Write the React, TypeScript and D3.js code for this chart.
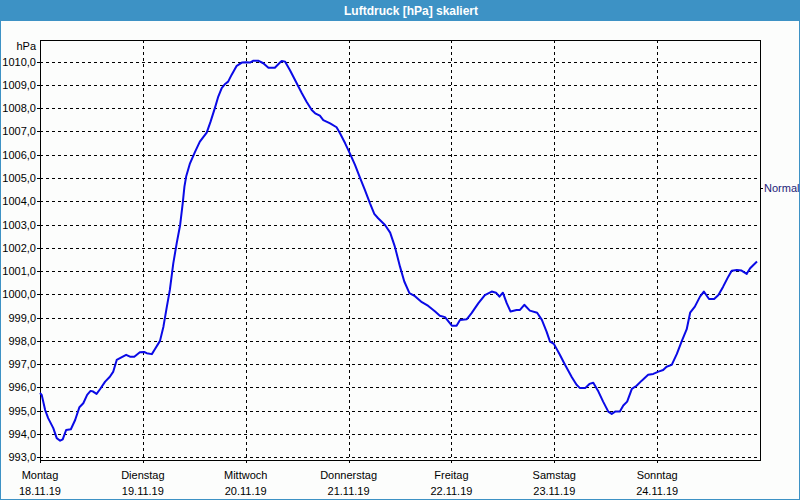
import React from "react";
import * as d3 from "d3";

const title = "Luftdruck [hPa] skaliert";
const unitLabel = "hPa";
const dayNames = ["Montag", "Dienstag", "Mittwoch", "Donnerstag", "Freitag", "Samstag", "Sonntag"];
const dayDates = ["18.11.19", "19.11.19", "20.11.19", "21.11.19", "22.11.19", "23.11.19", "24.11.19"];
const yTicks = [993, 994, 995, 996, 997, 998, 999, 1000, 1001, 1002, 1003, 1004, 1005, 1006, 1007, 1008, 1009, 1010];
const normalLabel = "Normal";
const normalValue = 1004.57;

// hours since Monday 00:00
const hours = [
  0, 0.4, 1.2, 1.9, 3.1, 3.9, 4.7, 5.3, 6.1, 7.2, 8.2, 9.2, 10.1, 11.0, 11.8, 12.4, 13.2, 14.0, 15.2, 16.3,
  17.1, 17.9, 19.1, 20.1, 21.0, 22.0, 23.3, 24.3, 24.9, 26.1, 26.8, 28.0, 28.8, 29.6, 30.3, 31.1, 31.9, 32.7,
  33.3, 33.7, 34.1, 35.0, 36.2, 37.3, 38.9, 39.8, 40.8, 41.6, 42.4, 43.2, 43.9, 44.7, 45.9, 47.1, 48.1, 49.0,
  49.8, 50.9, 52.1, 53.3, 54.8, 56.0, 56.4, 57.2, 58.3, 59.9, 61.1, 62.2, 63.4, 64.2, 65.3, 66.1, 67.7, 69.2,
  70.0, 71.2, 72.3, 73.5, 74.7, 75.8, 77.0, 78.0, 78.9, 80.5, 81.7, 82.8, 84.0, 85.0, 86.2, 87.5, 89.1, 90.6,
  92.2, 93.3, 94.5, 96.1, 97.2, 98.0, 99.6, 100.7, 102.3, 103.8, 105.4, 106.4, 107.2, 108.0, 108.9, 109.8,
  111.2, 112.0, 113.0, 114.3, 116.0, 117.1, 118.2, 119.0, 119.9, 121.3, 122.5, 124.1, 125.2, 126.0, 127.2,
  128.2, 129.1, 130.3, 131.4, 132.6, 133.4, 134.2, 135.3, 136.1, 137.0, 138.1, 139.2, 140.4, 141.9, 143.1,
  144.3, 145.4, 146.2, 147.4, 148.6, 149.7, 150.9, 151.7, 152.8, 154.0, 154.9, 156.1, 157.3, 158.3, 159.4,
  160.6, 161.4, 162.6, 163.7, 164.9, 165.7, 167.3,
];
const pressure = [
  995.76, 995.68, 995.03, 994.68, 994.25, 993.82, 993.71, 993.77, 994.17, 994.2, 994.6, 995.15, 995.32, 995.68,
  995.85, 995.82, 995.72, 995.92, 996.25, 996.46, 996.68, 997.18, 997.3, 997.4, 997.32, 997.32, 997.51, 997.52,
  997.47, 997.43, 997.64, 998.0, 998.61, 999.47, 1000.19, 1001.33, 1002.2, 1002.98, 1003.91, 1004.63, 1005.06,
  1005.63, 1006.13, 1006.56, 1006.95, 1007.42, 1008.0, 1008.5, 1008.86, 1009.04, 1009.14, 1009.43, 1009.82,
  1009.96, 1009.97, 1009.96, 1010.04, 1010.04, 1009.93, 1009.74, 1009.74, 1009.96, 1010.03, 1010.0, 1009.64,
  1009.07, 1008.64, 1008.28, 1007.92, 1007.78, 1007.68, 1007.49, 1007.35, 1007.18, 1006.92, 1006.49, 1006.06,
  1005.56, 1004.99, 1004.49, 1003.91, 1003.46, 1003.27, 1002.98, 1002.65, 1002.05, 1001.19, 1000.55, 1000.05,
  999.92, 999.66, 999.5, 999.26, 999.08, 999.02, 998.65, 998.65, 998.9, 998.93, 999.19, 999.62, 999.97, 1000.12,
  1000.07, 999.9, 1000.07, 999.62, 999.26, 999.33, 999.33, 999.55, 999.3, 999.21, 998.9, 998.4, 997.97, 997.87,
  997.4, 996.97, 996.44, 996.11, 995.97, 995.97, 996.15, 996.2, 995.82, 995.39, 994.96, 994.86, 994.96, 994.96,
  995.22, 995.39, 995.94, 996.07, 996.29, 996.54, 996.58, 996.68, 996.75, 996.89, 996.97, 997.44, 997.97, 998.5,
  999.21, 999.47, 999.9, 1000.12, 999.8, 999.8, 999.97, 1000.33, 1000.76, 1001.01, 1001.05, 1001.02, 1000.88,
  1001.12, 1001.41,
];

const W = 800;
const H = 500;
const plot = { left: 40, right: 760, top: 40, bottom: 460 };
const frameBlue = "#3d92c5";
const font = "'Liberation Sans', Arial, sans-serif";

export default function App() {
  const x = d3.scaleLinear().domain([0, 168]).range([plot.left, plot.right]);
  const y = d3.scaleLinear().domain([992.88, 1010.93]).range([plot.bottom, plot.top]);
  const line = d3
    .line<number>()
    .x((_, i) => x(hours[i]))
    .y((d) => y(d))
    .curve(d3.curveLinear);
  const dayTicks = dayNames.map((_, i) => i * 24);

  return (
    <svg
      width={W}
      height={H}
      style={{ position: "absolute", left: 0, top: 0, display: "block" }}
      fontFamily={font}
    >
      <rect x={0} y={0} width={W} height={H} fill="#fcfdfc" />
      <rect x={0.5} y={0.5} width={W - 1} height={H - 1} fill="none" stroke={frameBlue} strokeWidth={1} />
      <rect x={0} y={0} width={W} height={21} fill={frameBlue} />
      <text x={411} y={15} textAnchor="middle" fill="#ffffff" fontWeight="bold" fontSize={12}>
        {title}
      </text>

      {/* horizontal grid */}
      {yTicks.map((t) => (
        <g key={"y" + t}>
          <line
            x1={plot.left}
            x2={plot.right}
            y1={Math.round(y(t)) + 0.5}
            y2={Math.round(y(t)) + 0.5}
            stroke="#000"
            strokeDasharray="3,3"
            shapeRendering="crispEdges"
          />
          <line
            x1={plot.left - 3}
            x2={plot.left}
            y1={Math.round(y(t)) + 0.5}
            y2={Math.round(y(t)) + 0.5}
            stroke="#000"
            shapeRendering="crispEdges"
          />
          <text x={36} y={y(t) + 4} textAnchor="end" fontSize={11} fill="#000">
            {t.toFixed(1).replace(".", ",")}
          </text>
        </g>
      ))}

      {/* vertical grid */}
      {dayTicks.map((h, i) => (
        <g key={"x" + h}>
          {i > 0 && (
            <line
              x1={Math.round(x(h)) + 0.5}
              x2={Math.round(x(h)) + 0.5}
              y1={plot.top}
              y2={plot.bottom}
              stroke="#000"
              strokeDasharray="3,3"
              shapeRendering="crispEdges"
            />
          )}
          <line
            x1={Math.round(x(h)) + 0.5}
            x2={Math.round(x(h)) + 0.5}
            y1={plot.bottom}
            y2={plot.bottom + 3}
            stroke="#000"
            shapeRendering="crispEdges"
          />
          <text x={x(h)} y={479} textAnchor="middle" fontSize={11} fill="#000">
            {dayNames[i]}
          </text>
          <text x={x(h)} y={495} textAnchor="middle" fontSize={11} fill="#000">
            {dayDates[i]}
          </text>
        </g>
      ))}

      {/* plot frame */}
      <rect
        x={plot.left + 0.5}
        y={plot.top + 0.5}
        width={plot.right - plot.left}
        height={plot.bottom - plot.top}
        fill="none"
        stroke="#000"
        strokeWidth={1}
        shapeRendering="crispEdges"
      />

      <text x={36} y={50} textAnchor="end" fontSize={11} fill="#000">
        {unitLabel}
      </text>

      {/* normal marker */}
      <line
        x1={plot.right}
        x2={plot.right + 3}
        y1={Math.round(y(normalValue)) + 0.5}
        y2={Math.round(y(normalValue)) + 0.5}
        stroke="#000"
        shapeRendering="crispEdges"
      />
      <text x={764} y={y(normalValue) + 4} fontSize={11} fill="#1c1c78">
        {normalLabel}
      </text>

      <path d={line(pressure) || ""} fill="none" stroke="#0a0ae6" strokeWidth={2} strokeLinejoin="round" />
    </svg>
  );
}
